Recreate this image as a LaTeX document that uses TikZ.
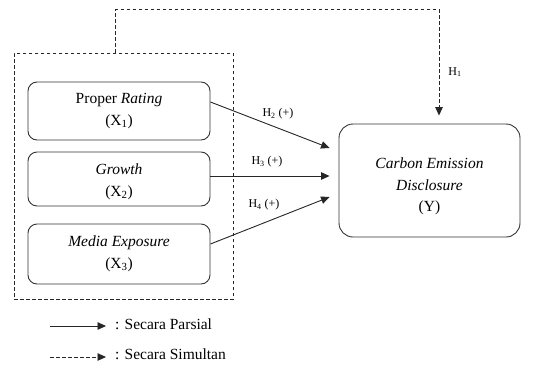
\documentclass[tikz,border=0pt]{standalone}
\usepackage{fontspec}
\setmainfont{Liberation Serif}
\usetikzlibrary{arrows.meta}
\begin{document}
\begin{tikzpicture}[x=1pt,y=-1pt,
  var/.style={draw=black!80, line width=0.9pt, rounded corners=9pt, align=center,
    font=\fontsize{15.5}{21.5}\selectfont, inner sep=0pt},
  vtext/.style={align=center, font=\fontsize{15.5}{21.5}\selectfont, inner sep=0pt},
  lbl/.style={font=\fontsize{12}{14}\selectfont, inner sep=0pt},
  leg/.style={font=\fontsize{15.5}{18}\selectfont, inner sep=0pt, anchor=west},
  tip/.style={-{Triangle[length=8.5pt,width=7.5pt]}},
  arr/.style={tip, line width=0.9pt, draw=black!85},
  dsh/.style={dash pattern=on 3.5pt off 2.5pt, line width=0.9pt, draw=black!85}]
\useasboundingbox (0,0) rectangle (537,364);

% group box
\node[dsh, draw, minimum width=219pt, minimum height=246pt, inner sep=0pt] (grp) at (123.5,176) {};

% variable boxes
\node[var, minimum width=182pt, minimum height=58pt] (b1) at (119,111) {Proper \textit{Rating}\\(X\textsubscript{1})};
\node[var, minimum width=182pt, minimum height=54pt,
  label={[vtext, yshift=-3pt]center:{\textit{Growth}\\(X\textsubscript{2})}}] (b2) at (119,179) {};
\node[var, minimum width=182pt, minimum height=60pt] (b3) at (119,254) {\textit{Media Exposure}\\(X\textsubscript{3})};
\node[var, minimum width=181pt, minimum height=113pt, rounded corners=14pt,
  label={[vtext, yshift=-6pt]center:{\textit{Carbon Emission}\\\textit{Disclosure}\\(Y)}}] (y) at (429.5,180.5) {};

% partial arrows
\draw[arr] ([yshift=9pt]b1.east) -- ([xshift=-9pt,yshift=32.5pt]y.west);
\draw[arr] ([yshift=3pt]b2.east) -- ([xshift=-9pt,yshift=4.5pt]y.west);
\draw[arr] ([yshift=10pt]b3.east) -- ([xshift=-9pt,yshift=-16.5pt]y.west);

% simultaneous arrow
\draw[dsh, tip] ([xshift=102pt]grp.north west) -- ++(0,-43) -| ([xshift=9.5pt,yshift=8pt]y.north);

% labels
\node[lbl] (h1) at (455,72) {H\textsubscript{1}};
\node[lbl] (h2) at (278,114) {H\textsubscript{2} (+)};
\node[lbl] (h3) at (267,162) {H\textsubscript{3} (+)};
\node[lbl] (h4) at (264,205) {H\textsubscript{4} (+)};

% legend
\coordinate (la) at (50,326);
\coordinate (lb) at (106,326);
\coordinate (lc) at (50,357);
\coordinate (ld) at (106,357);
\draw[arr] (la) -- (lb);
\draw[dsh, tip] (lc) -- (ld);
\node[leg] (t1) at (115,324.5) {: Secara Parsial};
\node[leg] (t2) at (115,354.5) {: Secara Simultan};
\end{tikzpicture}
\end{document}
